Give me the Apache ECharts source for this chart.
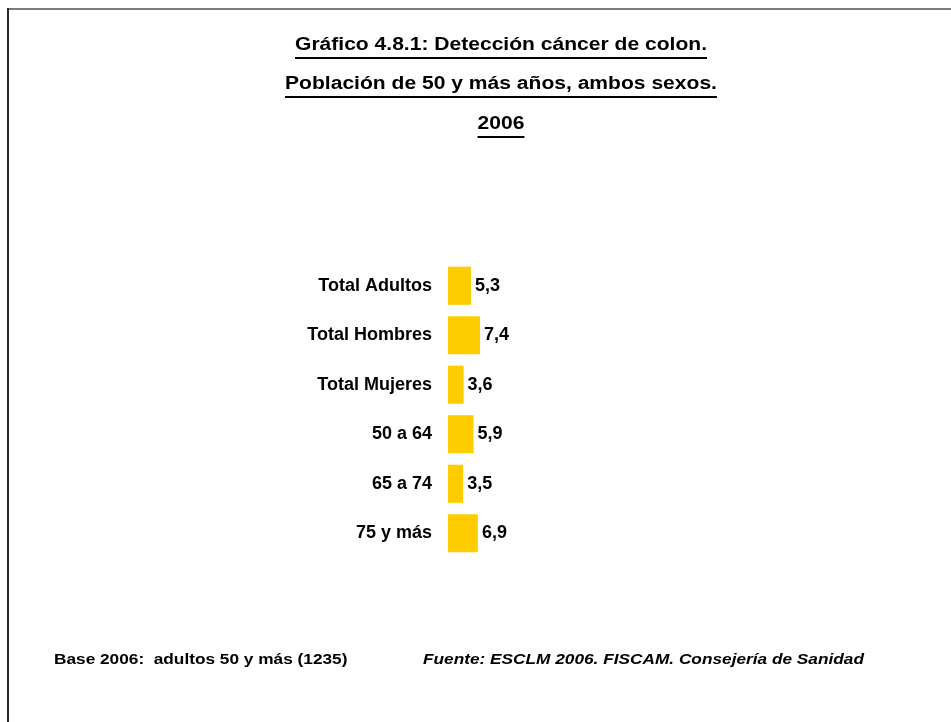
<!DOCTYPE html>
<html>
<head>
<meta charset="utf-8">
<script src="https://cdn.jsdelivr.net/npm/echarts@6/dist/echarts.min.js"></script>
<style>
  html, body { margin: 0; padding: 0; background: #fff; }
  #chart { width: 951px; height: 722px; }
</style>
</head>
<body>
<div id="chart"></div>
<script>
// Colon cancer screening, population aged 50+, 2006 (%)
const categories = ['Total Adultos', 'Total Hombres', 'Total Mujeres', '50 a 64', '65 a 74', '75 y más'];
const values = [5.3, 7.4, 3.6, 5.9, 3.5, 6.9];
const titleLines = [
  'Gráfico 4.8.1: Detección cáncer de colon.',
  'Población de 50 y más años, ambos sexos.',
  '2006'
];
const baseNote = 'Base 2006:  adultos 50 y más (1235)';
const sourceNote = 'Fuente: ESCLM 2006. FISCAM. Consejería de Sanidad';

const FONT = '"Liberation Sans", Arial, sans-serif';
const W = 951;
const STRETCH = 1.17; // the typeface is set slightly wide

// width of a text string, used to size the title underlines
const measureCtx = document.createElement('canvas').getContext('2d');
function textWidth(str, font) {
  measureCtx.font = font;
  return measureCtx.measureText(str).width;
}

const graphics = [];
// frame edges
graphics.push({ type: 'line', shape: { x1: 8, y1: 9, x2: W, y2: 9 }, style: { stroke: '#7a7a7a', lineWidth: 2 }, silent: true });
graphics.push({ type: 'line', shape: { x1: 8, y1: 8, x2: 8, y2: 722 }, style: { stroke: '#2a2a2a', lineWidth: 2 }, silent: true });

// underlined, centred title lines
const titleFont = 'bold 18px ' + FONT;
const baselines = [53, 92, 132];
titleLines.forEach((t, i) => {
  const cx = 501;
  const w = textWidth(t, titleFont) * STRETCH;
  graphics.push({
    type: 'text', silent: true,
    x: cx, y: baselines[i] + 1, scaleX: STRETCH,
    style: { x: 0, y: 0, text: t, fill: '#000', font: titleFont, textAlign: 'center', textVerticalAlign: 'bottom' }
  });
  graphics.push({
    type: 'line', silent: true,
    shape: { x1: cx - w / 2, y1: baselines[i] + 5, x2: cx + w / 2, y2: baselines[i] + 5 },
    style: { stroke: '#000', lineWidth: 2 }
  });
});

// footer notes
graphics.push({
  type: 'text', silent: true, x: 54, y: 660, scaleX: 1.15,
  style: { x: 0, y: 0, text: baseNote, fill: '#000', font: 'bold 15px ' + FONT, textVerticalAlign: 'middle' }
});
graphics.push({
  type: 'text', silent: true, x: 423, y: 660, scaleX: 1.15,
  style: { x: 0, y: 0, text: sourceNote, fill: '#000', font: 'italic bold 15px ' + FONT, textVerticalAlign: 'middle' }
});

const chart = echarts.init(document.getElementById('chart'), null, { renderer: 'canvas' });
chart.setOption({
  backgroundColor: '#fff',
  animation: false,
  grid: { left: 448, right: 70, top: 261, bottom: 164, containLabel: false },
  xAxis: { type: 'value', min: 0, max: 100, show: false },
  yAxis: {
    type: 'category',
    data: categories,
    inverse: true,
    axisLine: { show: false },
    axisTick: { show: false },
    splitLine: { show: false },
    axisLabel: { margin: 16, color: '#000', fontFamily: FONT, fontWeight: 'bold', fontSize: 18 }
  },
  series: [{
    type: 'bar',
    data: values,
    barCategoryGap: '23%',
    itemStyle: { color: '#FFCC00' },
    label: {
      show: true, position: 'right', distance: 4,
      color: '#000', fontFamily: FONT, fontWeight: 'bold', fontSize: 18,
      formatter: p => p.value.toFixed(1).replace('.', ',')
    }
  }],
  graphic: graphics
});
</script>
</body>
</html>
